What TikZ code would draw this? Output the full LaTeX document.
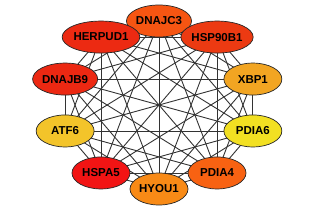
\documentclass[tikz,border=0pt]{standalone}
\usepackage{fontspec}
\setmainfont{Liberation Sans}
\usepackage{xcolor}
\usepackage{tikz}
\usetikzlibrary{shapes,backgrounds}
\definecolor{cDNAJC3}{HTML}{F65512}
\definecolor{cHERPUD1}{HTML}{EC2A12}
\definecolor{cDNAJB9}{HTML}{EC2812}
\definecolor{cATF6}{HTML}{F3C42A}
\definecolor{cHSPA5}{HTML}{F21414}
\definecolor{cHYOU1}{HTML}{F88A16}
\definecolor{cPDIA4}{HTML}{F86212}
\definecolor{cPDIA6}{HTML}{F2E022}
\definecolor{cXBP1}{HTML}{F2A522}
\definecolor{cHSP90B1}{HTML}{EC3A12}
\tikzstyle{gene} = [ellipse, draw=black!85, line width=0.7pt, minimum width=58pt, minimum height=32pt, inner sep=0pt, font=\fontsize{11.5}{11.5}\selectfont\bfseries]
\tikzstyle{link} = [draw=black!80, line width=0.9pt]

\begin{document}
\begin{tikzpicture}[x=1pt, y=1pt]
    \useasboundingbox (0,0) rectangle (313,-212);
    \foreach \name [count=\i from 0] in {DNAJC3,HERPUD1,DNAJB9,ATF6,HSPA5,HYOU1,PDIA4,PDIA6,XBP1,HSP90B1} {
        \node[gene, fill=c\name] (n\i) at ({159 + 98.7*cos(90 + 36*\i)}, {-105 + 84*sin(90 + 36*\i)}) {\name};
    }
    % every pair is linked
    \begin{scope}[on background layer]
        \foreach \i in {0,...,8} {
            \pgfmathtruncatemacro{\k}{\i+1}
            \foreach \j in {\k,...,9} {
                \draw[link] (n\i.center) -- (n\j.center);
            }
        }
    \end{scope}
\end{tikzpicture}
\end{document}
